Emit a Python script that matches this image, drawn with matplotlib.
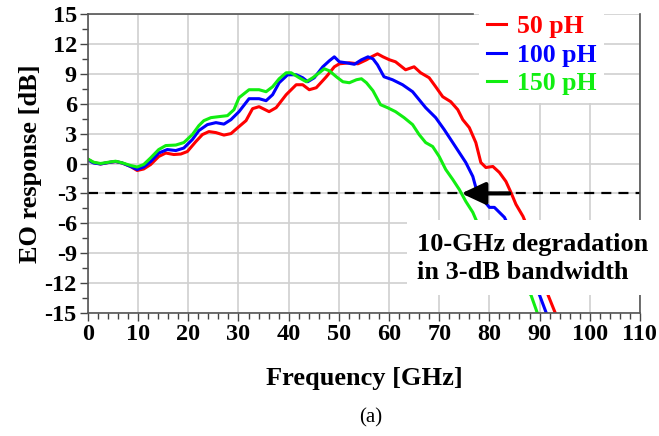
import matplotlib
matplotlib.use("Agg")
import matplotlib.pyplot as plt
import numpy as np
from matplotlib.patches import Rectangle
from matplotlib.ticker import MultipleLocator

plt.rcParams['font.family'] = ['Liberation Serif', 'DejaVu Serif']
plt.rcParams['font.weight'] = 'bold'
plt.rcParams['axes.unicode_minus'] = False

# EO response, frequency in GHz, response in dB
freq_50 = [0, 1.1, 2.5, 4.1, 5.5, 6.8, 8.5, 9.8, 11.1, 12.5, 14.1, 15.5, 17.1, 18.5, 19.8,
           21.5, 22.8, 24.1, 25.5, 27.1, 28.5, 30.1, 31.5, 32.8, 34.1, 36.1, 37.5, 39.5,
           41.5, 42.8, 44.1, 45.5, 47.5, 49.1, 50.1, 52.1, 53.8, 55.5, 56.5, 57.7, 58.8,
           60.1, 61.3, 63.3, 65, 66.3, 68, 69.3, 70.7, 72.3, 73.7, 74.7, 76, 77.3, 78.3,
           79.3, 80.7, 82, 83.3, 84.3, 85.3, 86.7, 88.5, 90.5, 91.7, 93.3]
eo_50 = [0.4, 0.1, -0.05, 0.1, 0.2, 0.05, -0.3, -0.7, -0.55, -0.1, 0.7, 1.05, 0.9, 0.95, 1.2,
         2.2, 2.9, 3.2, 3.1, 2.85, 3.0, 3.7, 4.3, 5.5, 5.7, 5.2, 5.6, 6.9,
         7.9, 7.9, 7.4, 7.6, 8.7, 9.7, 10.0, 10.1, 10.0, 10.4, 10.7, 11.0, 10.7,
         10.4, 10.2, 9.4, 9.7, 9.1, 8.6, 7.7, 6.7, 6.2, 5.4, 4.4, 3.6, 2.1, 0.1,
         -0.4, -0.3, -0.9, -1.8, -2.9, -4.1, -5.3, -7.5, -10.5, -13.2, -15.2]

freq_100 = [0, 1.1, 2.5, 4.1, 5.5, 6.8, 8.5, 9.8, 11.1, 12.5, 14.1, 15.8, 17.5, 19.1, 20.8,
            22.1, 23.8, 25.5, 27.1, 28.5, 30.1, 32.1, 34.1, 35.5, 36.8, 38.1, 39.8, 41.5,
            42.8, 43.8, 45.1, 46.8, 48.1, 49.1, 50.1, 51.5, 53.1, 54.5, 55.8, 56.8, 57.7,
            59, 60.7, 62.7, 64.7, 66, 67.3, 69.3, 71, 72.7, 74, 75.3, 76.7, 77.3, 78.7,
            80, 81, 82, 83, 85, 88, 90, 91.5]
eo_100 = [0.35, 0.05, -0.05, 0.1, 0.2, 0.05, -0.3, -0.6, -0.35, 0.2, 1.05, 1.4, 1.3, 1.55, 2.4,
          3.3, 3.9, 4.1, 3.95, 4.4, 5.2, 6.5, 6.5, 6.3, 6.9, 8.1, 8.9, 8.9,
          8.6, 8.2, 8.6, 9.7, 10.3, 10.7, 10.2, 10.1, 9.95, 10.4, 10.7, 10.5, 9.9,
          8.7, 8.4, 7.9, 7.2, 6.4, 5.6, 4.6, 3.4, 2.1, 1.1, 0.1, -1.3, -2.4, -3.6,
          -4.4, -4.4, -4.9, -5.4, -7.5, -11.0, -13.2, -15.2]

freq_150 = [0, 1.1, 2.5, 4.1, 5.5, 6.8, 8.5, 9.8, 11.1, 12.5, 14.1, 15.5, 17.5, 19.1, 20.8,
            22.1, 23.1, 24.5, 26.1, 27.8, 29.1, 30.1, 32.1, 34.1, 35.5, 36.8, 38.1, 39.5,
            40.5, 42.1, 43.5, 44.8, 46.1, 47.1, 48.1, 49.5, 50.8, 52.1, 53.5, 54.5, 55.5,
            56.8, 58.3, 59.7, 61.3, 63, 64.7, 66, 67.3, 68.7, 70, 71.3, 72.7, 74, 75.3,
            76.7, 77.3, 80, 85, 88.3, 89.7]
eo_150 = [0.45, 0.13, 0.0, 0.13, 0.23, 0.07, -0.2, -0.35, -0.1, 0.57, 1.4, 1.8, 1.85, 2.1, 2.9,
          3.8, 4.3, 4.6, 4.7, 4.8, 5.4, 6.6, 7.4, 7.4, 7.2, 7.7, 8.5, 9.1,
          9.1, 8.6, 8.2, 8.6, 9.1, 9.5, 9.3, 8.7, 8.2, 8.1, 8.4, 8.5, 8.1,
          7.3, 5.9, 5.6, 5.2, 4.6, 3.9, 2.9, 2.1, 1.7, 0.7, -0.6, -1.6, -2.6, -3.8,
          -4.9, -5.6, -8.5, -11.5, -13.2, -15.2]

labels = ['50 pH', '100 pH', '150 pH']
colors = ['#ff0000', '#0000ff', '#11ee11']
level_3db = -3

fig = plt.figure(figsize=(6.59, 4.36), dpi=100)
ax = fig.add_axes([0.1335, 0.282, 0.971 - 0.1335, 0.968 - 0.282])

series = [(freq_50, eo_50), (freq_100, eo_100), (freq_150, eo_150)]
for (f, eo), lab, c in zip(series, labels, colors):
    ax.plot(f, eo, color=c, lw=2.2, label=lab, zorder=2)

ax.axhline(level_3db, color='black', lw=1.6, ls=(0, (4.5, 3.2)), zorder=2.2)

# arrow between the -3 dB crossings of the 50 pH and 150 pH curves
def crossing(f, eo, level):
    f = np.asarray(f)
    eo = np.asarray(eo)
    i = np.where((eo[:-1] > level) & (eo[1:] <= level))[0][-1]
    return np.interp(level, [eo[i + 1], eo[i]], [f[i + 1], f[i]])

f_red = crossing(freq_50, eo_50, level_3db)
f_green = crossing(freq_150, eo_150, level_3db)
ax.annotate('', xy=(f_green, level_3db), xytext=(f_red - 0.4, level_3db),
            arrowprops=dict(arrowstyle='-|>,head_length=0.9,head_width=0.42',
                            mutation_scale=16, lw=3, color='black',
                            shrinkA=0, shrinkB=0), zorder=2.3)

ax.set_xlim(0, 110)
ax.set_ylim(-15, 15)
ax.xaxis.set_major_locator(MultipleLocator(10))
ax.xaxis.set_minor_locator(MultipleLocator(2))
ax.yaxis.set_major_locator(MultipleLocator(3))
ax.yaxis.set_minor_locator(MultipleLocator(1.5))
ax.grid(True, which='major', color='#d0d0d0', lw=1.2, zorder=0)
ax.set_axisbelow(True)
ax.tick_params(which='major', direction='out', length=6, width=1, color='#444444',
               labelsize=17.5, pad=2)
ax.tick_params(which='minor', direction='out', length=4, width=1, color='#444444')
for lab in ax.get_xticklabels() + ax.get_yticklabels():
    lab.set_fontweight('bold')
for s in ax.spines.values():
    s.set_color('#555555')
    s.set_linewidth(1.2)
ax.spines['top'].set_bounds(0, 76.7)

ax.set_xlabel('Frequency [GHz]', fontsize=19, fontweight='bold', labelpad=16)
ax.set_ylabel('EO response [dB]', fontsize=19, fontweight='bold', labelpad=2)

leg = ax.legend(loc='upper left', bbox_to_anchor=(0.686, 1.065), frameon=True,
                fancybox=False, edgecolor='none', facecolor='white', framealpha=1,
                handlelength=0.75, handletextpad=0.4, labelspacing=0.22,
                prop={'size': 18.5, 'weight': 'bold'}, labelcolor='linecolor',
                borderpad=0.3)
leg.set_zorder(2.4)
for h in leg.get_lines():
    h.set_linewidth(2.2)

# white box behind the annotation text
ax.add_patch(Rectangle((0.578, 0.06), 0.45, 0.252, transform=ax.transAxes,
                       facecolor='white', edgecolor='none', clip_on=False, zorder=5))
ax.text(0.596, 0.182, '10-GHz degradation\nin 3-dB bandwidth', transform=ax.transAxes,
        fontsize=19, fontweight='bold', va='center', ha='left', linespacing=1.3, zorder=6)

fig.text(0.563, 0.041, '(a)', fontsize=15, fontweight='normal', ha='center', va='center')

fig.savefig('out.png', dpi=100)
